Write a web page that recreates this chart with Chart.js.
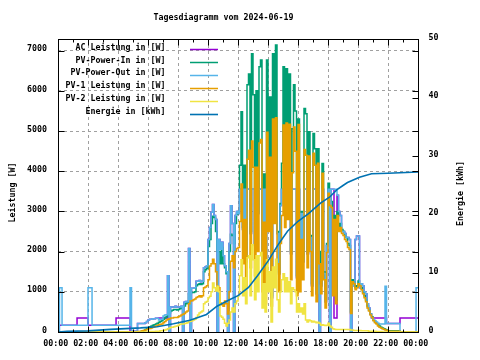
<!DOCTYPE html>
<html>
<head>
<meta charset="utf-8">
<script src="https://cdn.jsdelivr.net/npm/chart.js@4.4.1/dist/chart.umd.min.js"></script>
<style>
  html, body { margin: 0; padding: 0; background: #fff; }
</style>
</head>
<body>
<canvas id="chart" width="480" height="360"></canvas>
<script>
// Zeitachse in Stunden (nachts grob, tagsueber alle 6 Minuten)
const hours = [0, 0.1, 0.27, 1.27, 2, 2.27, 3.87, 4.8, 4.9,
  5, 5.1, 5.2, 5.3, 5.4, 5.5, 5.6, 5.7, 5.8, 5.9,
  6, 6.1, 6.2, 6.3, 6.4, 6.5, 6.6, 6.7, 6.8, 6.9,
  7, 7.1, 7.2, 7.3, 7.4, 7.5, 7.6, 7.7, 7.8, 7.9,
  8, 8.1, 8.2, 8.3, 8.4, 8.5, 8.6, 8.7, 8.8, 8.9,
  9, 9.1, 9.2, 9.3, 9.4, 9.5, 9.6, 9.7, 9.8, 9.9,
  10, 10.1, 10.2, 10.3, 10.4, 10.5, 10.6, 10.7, 10.8, 10.9,
  11, 11.1, 11.2, 11.3, 11.4, 11.5, 11.6, 11.7, 11.8, 11.9,
  12, 12.1, 12.2, 12.3, 12.4, 12.5, 12.6, 12.7, 12.8, 12.9,
  13, 13.1, 13.2, 13.3, 13.4, 13.5, 13.6, 13.7, 13.8, 13.9,
  14, 14.1, 14.2, 14.3, 14.4, 14.5, 14.6, 14.7, 14.8, 14.9,
  15, 15.1, 15.2, 15.3, 15.4, 15.5, 15.6, 15.7, 15.8, 15.9,
  16, 16.1, 16.2, 16.3, 16.4, 16.5, 16.6, 16.7, 16.8, 16.9,
  17, 17.1, 17.2, 17.3, 17.4, 17.5, 17.6, 17.7, 17.8, 17.9,
  18, 18.1, 18.2, 18.3, 18.4, 18.5, 18.6, 18.7, 18.8, 18.9,
  19, 19.1, 19.2, 19.3, 19.4, 19.5, 19.6, 19.7, 19.8, 19.9,
  20, 20.1, 20.2, 20.3, 20.4, 20.5, 20.6, 20.7, 20.8, 20.9,
  21, 21.1, 21.2, 21.3, 21.4, 21.5, 21.6, 21.7, 21.8, 21.9,
  22, 22.8, 23.87, 23.95, 24];

const acWatts = [170, 170, 170, 350, 170, 170, 350, 20, 20,
  20, 20, 20, 210, 210, 210, 210, 210, 230, 260,
  300, 320, 320, 330, 330, 340, 340, 350, 350, 350,
  350, 350, 350, 1400, 0, 620, 620, 620, 640, 620,
  620, 620, 640, 0, 740, 760, 750, 2080, 0, 1090,
  1090, 1100, 1260, 1260, 1280, 1250, 1260, 1600, 1620, 1650,
  2300, 2600, 2980, 3170, 2900, 2800, 0, 2300, 2060, 2230,
  1900, 1650, 1500, 0, 2200, 3140, 2700, 0, 2900, 3000,
  2950, 3550, 3550, 2550, 3550, 1750, 3550, 3550, 2450, 3550,
  3550, 2150, 3550, 2950, 3550, 3550, 1550, 3550, 1150, 3550,
  3450, 3550, 850, 3550, 3550, 3550, 2450, 1450, 3150, 3550,
  3550, 3550, 3550, 3550, 3550, 1950, 3550, 3550, 3550, 1350,
  3550, 1450, 2950, 1750, 3550, 3550, 1950, 3550, 2350, 1150,
  3550, 3550, 950, 3550, 0, 1150, 3550, 1450, 750, 2150,
  3550, 0, 3550, 3550, 350, 350, 3400, 3000, 2900, 2500,
  2500, 2450, 2350, 2350, 2300, 0, 1150, 1200, 2300, 2390,
  2390, 1100, 1200, 1150, 1000, 950, 700, 600, 450, 350,
  350, 350, 350, 350, 350, 350, 350, 350, 350, 210,
  210, 350, 350, 350, 350];

const pvInWatts = [0, 0, 0, 0, 0, 0, 0, 0, 0,
  0, 0, 0, 0, 0, 10, 20, 40, 60, 80,
  100, 130, 150, 170, 180, 200, 220, 240, 260, 280,
  320, 350, 380, 420, 480, 520, 540, 560, 560, 550,
  560, 580, 600, 620, 650, 700, 720, 950, 970, 980,
  980, 1000, 1150, 1180, 1200, 1180, 1200, 1500, 1550, 1580,
  2130, 2300, 2700, 2880, 2850, 2500, 2000, 2000, 1700, 2100,
  1700, 1600, 1450, 1500, 2000, 2430, 2400, 2200, 2700, 2930,
  3000, 4150, 5480, 2600, 4150, 1800, 6150, 6420, 2500, 6920,
  5900, 2200, 6000, 3000, 6600, 6770, 1600, 3930, 1200, 6770,
  3500, 5850, 900, 6920, 3800, 7140, 2500, 1500, 3200, 4200,
  6600, 3600, 6550, 3800, 6420, 2000, 5060, 6150, 5500, 1400,
  5300, 1500, 3000, 1800, 5560, 5430, 2000, 4980, 2400, 1200,
  4940, 4560, 1000, 4560, 2000, 1200, 4190, 1500, 800, 2200,
  3700, 3300, 3250, 1000, 2900, 800, 3000, 2600, 2700, 2550,
  2500, 2400, 2350, 2200, 2150, 500, 1300, 1250, 1100, 1150,
  1270, 1200, 1100, 1000, 900, 800, 650, 550, 450, 380,
  300, 250, 220, 180, 150, 120, 100, 80, 60, 50,
  30, 0, 0, 0, 0];

const pvOutWatts = [0, 1100, 170, 170, 1100, 170, 170, 1100, 20,
  20, 20, 20, 210, 210, 210, 210, 210, 230, 260,
  300, 320, 320, 330, 330, 340, 340, 300, 310, 320,
  400, 420, 430, 1400, 0, 620, 620, 620, 640, 620,
  620, 620, 640, 0, 740, 760, 750, 2080, 0, 1090,
  1090, 1100, 1260, 1260, 1280, 1250, 1260, 1600, 1620, 1650,
  2300, 2600, 2980, 3170, 2900, 2800, 0, 2300, 2060, 2230,
  1900, 1650, 1500, 0, 2200, 3140, 2700, 0, 2900, 3000,
  2950, 3550, 3550, 2550, 3550, 1750, 3550, 3550, 2450, 3550,
  3550, 2150, 3550, 2950, 3550, 3550, 1550, 3550, 1150, 3550,
  3450, 3550, 850, 3550, 3550, 3550, 2450, 1450, 3150, 3550,
  3550, 3550, 3550, 3550, 3550, 1950, 3550, 3550, 3550, 1350,
  3550, 1450, 2950, 1750, 3550, 3550, 1950, 3550, 2350, 1150,
  3550, 3550, 950, 3550, 0, 1150, 3550, 1450, 750, 2150,
  3550, 0, 3550, 3550, 3550, 3550, 3400, 3000, 2900, 2500,
  2500, 2450, 2350, 2350, 2300, 0, 1150, 1200, 2300, 2390,
  2390, 1100, 1200, 1150, 1000, 950, 700, 600, 450, 350,
  320, 280, 250, 220, 200, 200, 200, 200, 1140, 210,
  210, 0, 1100, 1100, 1100];

const pv1Watts = [0, 0, 0, 0, 0, 0, 0, 0, 0,
  0, 0, 0, 10, 10, 20, 30, 40, 50, 60,
  80, 90, 100, 120, 130, 150, 160, 180, 190, 200,
  230, 260, 300, 320, 330, 350, 350, 360, 360, 360,
  380, 400, 420, 440, 460, 500, 520, 700, 770, 780,
  800, 820, 860, 880, 900, 870, 900, 1100, 1120, 1150,
  1300, 1640, 1700, 1810, 1700, 1500, 1140, 1100, 720, 680,
  640, 770, 700, 450, 1000, 1760, 1900, 1600, 2000, 2080,
  2100, 2750, 3680, 1700, 2800, 1100, 4300, 4520, 1600, 4750,
  4100, 1400, 4100, 2000, 4700, 4790, 1000, 2730, 700, 4970,
  2500, 4350, 650, 5300, 2700, 5330, 1700, 1000, 2200, 2900,
  5150, 2600, 5200, 2800, 5170, 1300, 3960, 5100, 4500, 900,
  5160, 1000, 2300, 1300, 4540, 4400, 1600, 4380, 2000, 900,
  4450, 4150, 750, 4200, 1700, 950, 3950, 1300, 600, 1980,
  3450, 3150, 3100, 900, 2800, 700, 2900, 2500, 2600, 2450,
  2400, 2300, 2250, 2100, 2050, 460, 1250, 1200, 1050, 1100,
  1200, 1150, 1050, 950, 850, 750, 600, 520, 420, 360,
  280, 230, 200, 150, 120, 100, 80, 60, 50, 40,
  20, 0, 0, 0, 0];

const pv2Watts = [0, 0, 0, 0, 0, 0, 0, 0, 0,
  0, 0, 0, 0, 0, 0, 0, 0, 0, 0,
  0, 10, 10, 10, 10, 20, 20, 20, 30, 30,
  40, 50, 60, 80, 100, 120, 120, 130, 140, 150,
  170, 190, 200, 200, 210, 220, 230, 260, 270, 280,
  300, 320, 360, 420, 470, 500, 520, 700, 740, 760,
  850, 890, 1000, 1220, 1100, 1020, 1140, 1000, 400, 370,
  320, 220, 150, 220, 300, 500, 600, 500, 700, 770,
  900, 1400, 1800, 900, 1350, 700, 1850, 1900, 900, 2170,
  1800, 800, 1900, 1000, 1900, 1980, 600, 1200, 500, 1800,
  1000, 1500, 250, 1620, 1100, 1810, 800, 500, 1000, 1300,
  1450, 1000, 1350, 1000, 1250, 700, 1100, 1050, 1000, 500,
  700, 500, 600, 450, 700, 300, 250, 300, 280, 250,
  270, 250, 230, 240, 220, 170, 180, 170, 160, 170,
  220, 150, 120, 80, 70, 60, 60, 60, 60, 60,
  60, 60, 60, 60, 60, 50, 50, 40, 40, 40,
  40, 40, 30, 30, 30, 30, 30, 20, 20, 20,
  20, 20, 10, 10, 10, 10, 0, 0, 0, 0,
  0, 0, 0, 0, 0];

// Energie (kWh), eigene Zeitpunkte
const energyHours = [0, 0.6, 2, 3.5, 5.5, 6.6, 7.7, 8.8, 9.9, 10.6, 11.5, 12, 12.7, 13.3,
  14, 14.7, 15.3, 16, 16.7, 17.5, 18.1, 18.6, 19, 19.3, 20.1, 20.9, 22, 24];
const energyKwh = [0, 0.1, 0.2, 0.45, 0.7, 0.9, 1.4, 2, 3, 4.4, 5.6, 6.2, 7.6, 9.6,
  12.1, 15, 17.2, 18.9, 20.2, 22, 23, 24.3, 25, 25.5, 26.4, 27, 27.1, 27.3];

const hourTicks = [0, 2, 4, 6, 8, 10, 12, 14, 16, 18, 20, 22, 24];
const wattTicks = [0, 1000, 2000, 3000, 4000, 5000, 6000, 7000];
const kwhTicks = [0, 10, 20, 30, 40, 50];

const FONT = 'DejaVu Sans Mono';
Chart.defaults.font.family = FONT;
Chart.defaults.font.size = 8.3;
Chart.defaults.font.weight = 'bold';
Chart.defaults.color = '#000';

function hhmm(v) {
  const h = Math.round(v) % 24;
  return (h < 10 ? '0' : '') + h + ':00';
}

function powerSet(label, data, color, order) {
  return {
    label: label,
    data: data,
    borderColor: color,
    borderWidth: 1.5,
    stepped: true,
    pointRadius: 0,
    fill: false,
    order: order
  };
}

// gnuplot-Rahmen, Ticks, Titel und Legende
const gnuplotFrame = {
  id: 'gnuplotFrame',
  afterDraw(chart) {
    const ctx = chart.ctx;
    const a = chart.chartArea;
    const sx = chart.scales.x, sy = chart.scales.y, sy2 = chart.scales.y2;
    const L = Math.round(a.left) + 0.5, R = Math.round(a.right) + 0.5;
    const T = Math.round(a.top) + 0.5, B = Math.round(a.bottom) + 0.5;
    ctx.save();
    ctx.strokeStyle = '#000';
    ctx.lineWidth = 1;
    ctx.beginPath();
    for (let h = 0; h <= 24; h++) {
      const x = Math.round(sx.getPixelForValue(h)) + 0.5;
      const len = h % 2 === 0 ? 6 : 3;
      ctx.moveTo(x, B); ctx.lineTo(x, B - len);
      ctx.moveTo(x, T); ctx.lineTo(x, T + len);
    }
    wattTicks.forEach(v => {
      const y = Math.round(sy.getPixelForValue(v)) + 0.5;
      ctx.moveTo(L, y); ctx.lineTo(L + 6, y);
      ctx.moveTo(R, y); ctx.lineTo(R - 6, y);
    });
    kwhTicks.forEach(v => {
      const y = Math.round(sy2.getPixelForValue(v)) + 0.5;
      ctx.moveTo(R, y); ctx.lineTo(R - 6, y);
    });
    ctx.stroke();
    ctx.strokeRect(L, T, R - L, B - T);

    ctx.fillStyle = '#000';
    ctx.font = 'bold 8.3px "' + FONT + '"';
    ctx.textBaseline = 'middle';
    ctx.textAlign = 'center';
    ctx.fillText('Tagesdiagramm vom 2024-06-19', 223.5, 18);

    ctx.save();
    ctx.translate(12.5, 192.5);
    ctx.rotate(-Math.PI / 2);
    ctx.fillText('Leistung [W]', 0, 0);
    ctx.restore();
    ctx.save();
    ctx.translate(460.5, 193.5);
    ctx.rotate(-Math.PI / 2);
    ctx.fillText('Energie [kWh]', 0, 0);
    ctx.restore();

    // Legende oben links wie bei gnuplot
    ctx.textAlign = 'right';
    chart.data.datasets.forEach((ds, i) => {
      const y = 49 + i * 12.95;
      ctx.fillStyle = '#000';
      ctx.fillText(ds.label, 165.5, y - 1.6);
      ctx.strokeStyle = ds.borderColor;
      ctx.lineWidth = i === 5 ? 1.6 : 1.5;
      ctx.beginPath();
      ctx.moveTo(190, Math.round(y) + 0.5);
      ctx.lineTo(218, Math.round(y) + 0.5);
      ctx.stroke();
    });
    ctx.restore();
  }
};

const gridOpts = { color: '#a0a0a0', lineWidth: 1, drawTicks: false };
const borderOpts = { display: false, dash: [3, 3] };

new Chart(document.getElementById('chart'), {
  type: 'line',
  data: {
    labels: hours,
    datasets: [
      powerSet('AC Leistung in [W]', acWatts, '#9400d3', 6),
      powerSet('PV-Power-In in [W]', pvInWatts, '#009e73', 5),
      powerSet('PV-Power-Out in [W]', pvOutWatts, '#56b4e9', 4),
      powerSet('PV-1 Leistung in [W]', pv1Watts, '#e69f00', 3),
      powerSet('PV-2 Leistung in [W]', pv2Watts, '#f0e442', 2),
      {
        label: 'Energie in [kWh]',
        data: energyHours.map((h, i) => ({ x: h, y: energyKwh[i] })),
        borderColor: '#0072b2',
        borderWidth: 1.6,
        pointRadius: 0,
        fill: false,
        yAxisID: 'y2',
        order: 1
      }
    ]
  },
  options: {
    responsive: false,
    animation: false,
    events: [],
    layout: { padding: { top: 39, left: 0, right: 0, bottom: 0 } },
    plugins: { legend: { display: false }, tooltip: { enabled: false }, title: { display: false } },
    scales: {
      x: {
        type: 'linear', min: 0, max: 24,
        afterFit: s => { s.height = 28; },
        afterBuildTicks: s => { s.ticks = hourTicks.map(v => ({ value: v })); },
        ticks: { padding: 7, maxRotation: 0, autoSkip: false, labelOffset: -2.3, callback: v => hhmm(v) },
        grid: gridOpts,
        border: borderOpts
      },
      y: {
        position: 'left', min: 0, max: 7290,
        afterFit: s => { s.width = 58; },
        afterBuildTicks: s => { s.ticks = wattTicks.map(v => ({ value: v })); },
        ticks: { padding: 11, labelOffset: -1.5, callback: v => String(v) },
        grid: gridOpts,
        border: borderOpts
      },
      y2: {
        position: 'right', min: 0, max: 50,
        afterFit: s => { s.width = 62; },
        afterBuildTicks: s => { s.ticks = kwhTicks.map(v => ({ value: v })); },
        ticks: { padding: 10.5, labelOffset: -1.5, callback: v => String(v) },
        grid: { display: false, drawTicks: false },
        border: { display: false }
      }
    }
  },
  plugins: [gnuplotFrame]
});
</script>
</body>
</html>
